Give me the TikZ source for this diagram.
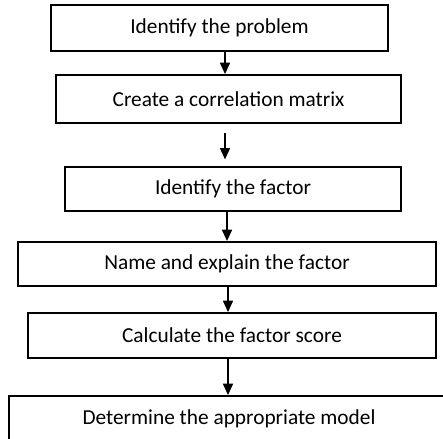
\documentclass[tikz,border=0pt]{standalone}
\usepackage{fontspec}
\setmainfont{Carlito}
\usetikzlibrary{arrows.meta}
\tikzset{
  caja/.style={draw=black, fill=white, line width=1.4pt, font=\fontsize{16pt}{19pt}\selectfont,
               inner sep=0pt},
  flecha/.style={line width=1.1pt, color=black, -{Triangle[length=8.5pt, width=7.5pt]}},
}

\begin{document}
\begin{tikzpicture}[x=0.75pt, y=0.75pt]
    \useasboundingbox (0,0) rectangle (443,-439);
    \node[caja, minimum width=252.75pt, minimum height=34.5pt] (p1) at (219.5,-28) {Identify the problem};
    \node[caja, minimum width=258.75pt, minimum height=36pt] (p2) at (228.5,-99) {Create a correlation matrix};
    \node[caja, minimum width=252pt, minimum height=33pt] (p3) at (233,-189) {Identify the factor};
    \node[caja, minimum width=313.5pt, minimum height=33pt] (p4) at (227,-264) {Name and explain the factor};
    \node[caja, minimum width=306pt, minimum height=33.75pt] (p5) at (232,-335.5) {Calculate the factor score};
    \node[caja, minimum width=330pt, minimum height=34.5pt] (p6) at (229,-419) {Determine the appropriate model};
    % columnas de las flechas
    \coordinate (x1) at (225,0);
    \coordinate (x3) at (227,0);
    \coordinate (x4) at (228,0);
    \draw[flecha] (p1.south -| x1) -- (p2.north -| x1);
    \draw[flecha, shorten <=6.5pt, shorten >=5pt] (p2.south -| x1) -- (p3.north -| x1);
    \draw[flecha] (p3.south -| x3) -- (p4.north -| x3);
    \draw[flecha] (p4.south -| x4) -- (p5.north -| x4);
    \draw[flecha] (p5.south -| x4) -- (p6.north -| x4);
  \end{tikzpicture}
\end{document}
